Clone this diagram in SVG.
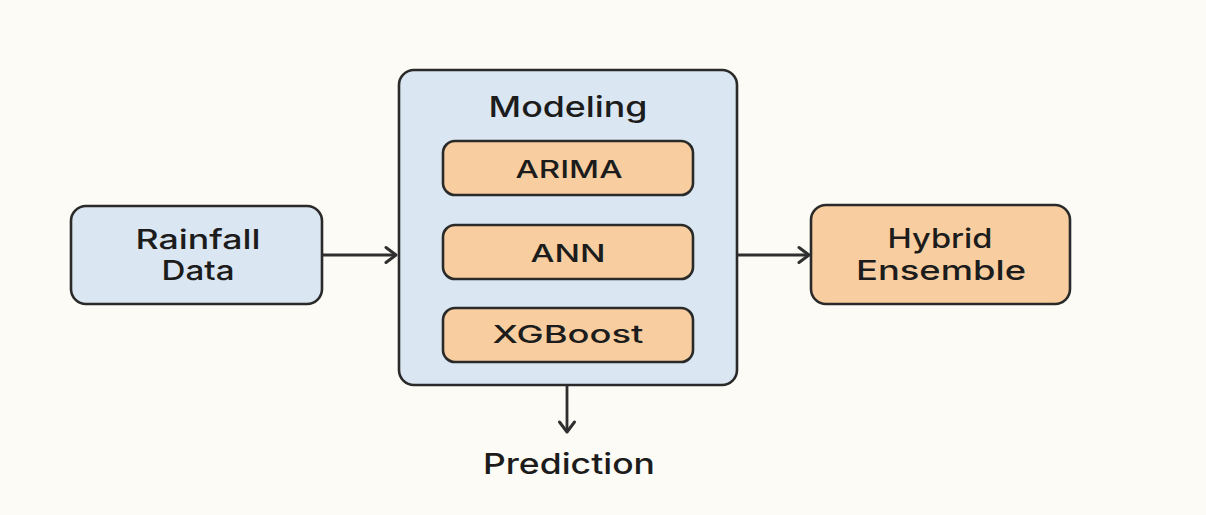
<svg xmlns="http://www.w3.org/2000/svg" width="1206" height="515" viewBox="0 0 1206 515">
  <defs>
    <style>
      .bg { fill: #fcfbf5; }
      .box { stroke: #2a2a2a; stroke-width: 2.6; }
      .blue { fill: #dae6f1; }
      .orange { fill: #f8cea0; }
      .label { font-family: Inter, "DejaVu Sans", "Liberation Sans", sans-serif; font-weight: 500; fill: #1c1c1c; text-anchor: middle; }
      .big { font-size: 28.5px; }
      .two { font-size: 27px; }
      .mid { font-size: 24.5px; }
      .edge { fill: none; stroke: #2f2f2f; stroke-width: 2.8; }
    </style>
    <marker id="chev" markerUnits="userSpaceOnUse" markerWidth="20" markerHeight="20" viewBox="0 0 20 20" refX="15" refY="10" orient="auto">
      <path d="M5,2.5 L15,10 L5,17.5" fill="none" stroke="#2f2f2f" stroke-width="3" stroke-linecap="round" stroke-linejoin="round"/>
    </marker>
  </defs>

  <rect class="bg" x="0" y="0" width="1206" height="515"/>

  <!-- input data -->
  <g id="rainfall-data">
    <rect class="box blue" x="71" y="206" width="251" height="98" rx="15"/>
    <text class="label two" x="198" y="249" textLength="125" lengthAdjust="spacingAndGlyphs">Rainfall</text>
    <text class="label two" x="198" y="280" textLength="73" lengthAdjust="spacingAndGlyphs">Data</text>
  </g>

  <!-- modeling container with the three models -->
  <g id="modeling">
    <rect class="box blue" x="399" y="70" width="338" height="315" rx="15"/>
    <text class="label big" x="568" y="117" textLength="159" lengthAdjust="spacingAndGlyphs">Modeling</text>
  </g>

  <g id="arima">
    <rect class="box orange" x="443" y="141" width="250" height="54" rx="12"/>
    <text class="label mid" x="569" y="178" textLength="107" lengthAdjust="spacingAndGlyphs">ARIMA</text>
  </g>

  <g id="ann">
    <rect class="box orange" x="443" y="225" width="250" height="54" rx="12"/>
    <text class="label mid" x="568" y="262" textLength="75" lengthAdjust="spacingAndGlyphs">ANN</text>
  </g>

  <g id="xgboost">
    <rect class="box orange" x="443" y="308" width="250" height="54" rx="12"/>
    <text class="label mid" x="568" y="343" textLength="151" lengthAdjust="spacingAndGlyphs">XGBoost</text>
  </g>

  <!-- combined output -->
  <g id="hybrid-ensemble">
    <rect class="box orange" x="811" y="205" width="259" height="99" rx="15"/>
    <text class="label two" x="940" y="248" textLength="105" lengthAdjust="spacingAndGlyphs">Hybrid</text>
    <text class="label two" x="941" y="280" textLength="170" lengthAdjust="spacingAndGlyphs">Ensemble</text>
  </g>

  <g id="prediction">
    <text class="label big" x="569" y="474" textLength="172" lengthAdjust="spacingAndGlyphs">Prediction</text>
  </g>

  <!-- connectors -->
  <g id="connectors">
    <line class="edge" x1="323" y1="255" x2="396" y2="255" marker-end="url(#chev)"/>
    <line class="edge" x1="738" y1="255" x2="809" y2="255" marker-end="url(#chev)"/>
    <line class="edge" x1="567" y1="386" x2="567" y2="432" marker-end="url(#chev)"/>
  </g>
</svg>
